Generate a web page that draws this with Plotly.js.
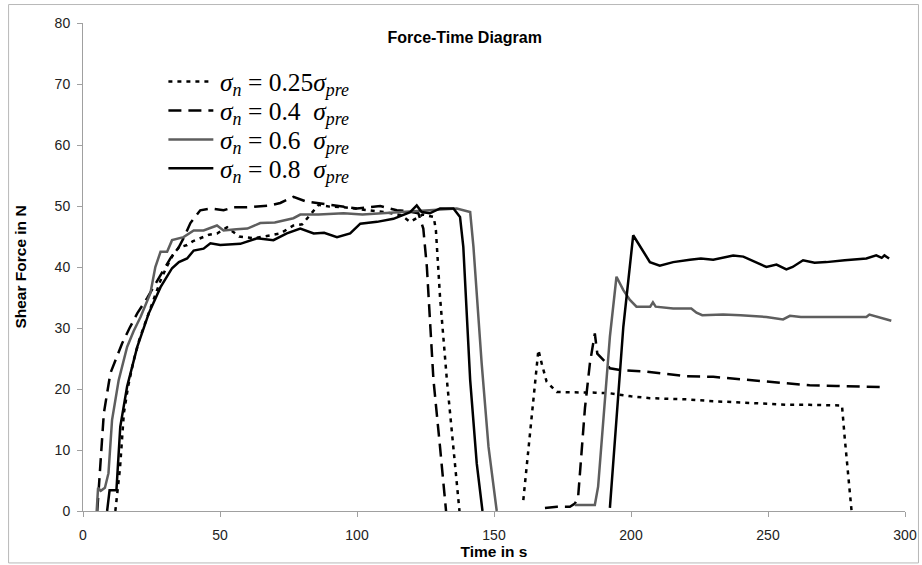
<!DOCTYPE html>
<html>
<head>
<meta charset="utf-8">
<script src="https://cdn.plot.ly/plotly-3.0.1.min.js"></script>
<style>html,body{margin:0;padding:0;background:#fff;}#chart{width:922px;height:565px;}</style>
</head>
<body>
<div id="chart"></div>
<script>
// sigma_n = 0.25 sigma_pre (dotted)
const t025 = [11.8, 13.5, 14.9, 16.5, 18.5, 20.5, 22.2, 24, 25.2, 28.3, 30.5, 33.1, 35, 38, 40, 42.8, 46, 48.9, 52.6, 57, 62.3, 66, 72, 76.8, 80, 86, 90, 95, 100, 105, 110, 116, 119.4, 124, 128, 128.8, 130.3, 132.8, 135.2, 137.4, null, 160.7, 163.1, 165, 166.2, 167.4, 169.2, 172.9, 177.7, 182.6, 187, 192.3, 200, 206.9, 213, 220.3, 230, 242.1, 250, 258, 265, 272.5, 277, 278, 279.5, 280.5];
const f025 = [0, 7, 16, 20.5, 24.7, 28, 30.2, 32.5, 34, 37.8, 40, 42.2, 43.2, 43.6, 44.2, 44.7, 45.3, 45.5, 46.5, 45, 44.7, 45, 45.5, 46.8, 47, 50.2, 49.9, 49.8, 49.5, 49.3, 49, 48.5, 47.4, 48.6, 48.2, 46, 35.1, 21.5, 10.5, 0, null, 1.8, 12.7, 22, 26.4, 24.2, 21.2, 19.5, 19.5, 19.5, 19.4, 19.3, 18.8, 18.5, 18.4, 18.3, 18, 17.7, 17.6, 17.4, 17.4, 17.4, 17.3, 12, 5, 0];

// sigma_n = 0.4 sigma_pre (dashed)
const t04 = [5.2, 6.4, 7.6, 10, 12, 14.3, 17, 19.8, 23.4, 26, 29.4, 32, 34.9, 37, 39.2, 42.8, 46.5, 51.3, 55, 59.9, 64, 68.4, 72, 76.8, 81.7, 86.6, 90, 95, 100, 104, 108.5, 114.5, 118, 122.4, 124.2, 125.5, 127.9, 130.3, 132.5, null, 168.6, 173, 177.7, 179.5, 180.7, 182, 183.2, 185, 186.8, 187.7, 190.5, 192.3, 196, 204.3, 213, 220.3, 230, 239.7, 247, 255.5, 265.2, 275, 283.5, 293.2];
const f04 = [0, 7.8, 16, 22.6, 25, 27.5, 30, 32.4, 34.9, 37, 39.5, 41.5, 43.2, 45, 47.2, 49.3, 49.6, 49.3, 49.8, 49.8, 50, 50.1, 50.5, 51.5, 50.7, 50.4, 50.2, 50, 49.6, 49.8, 50, 49.3, 49.2, 48.8, 46.3, 40, 21.5, 10.5, 0, null, 0.5, 0.7, 0.7, 1.2, 2.3, 9.4, 16.9, 24.2, 29.1, 25.8, 24.5, 23.4, 23.1, 22.9, 22.5, 22.1, 22, 21.6, 21.3, 21, 20.6, 20.5, 20.4, 20.3];

// sigma_n = 0.6 sigma_pre (grey solid)
const t06 = [5, 5.5, 6.5, 8, 9.3, 10.6, 13, 16.1, 18.5, 21, 24.6, 26.4, 28.3, 30.7, 32.5, 36.7, 40.4, 44, 48.9, 51.3, 56, 60, 64.7, 70, 76.8, 79.3, 86, 95.1, 102, 109.7, 115.7, 121, 127.9, 136.4, 141.3, 142.5, 145.5, 148, 151, null, 179.5, 186.8, 188, 189.9, 192.3, 194.7, 197.2, 199.6, 202, 207, 208, 209, 215.4, 220, 222, 223.9, 226, 233.6, 240, 249.4, 255.5, 258, 262, 270, 280, 285.9, 287, 293, 295];
const f06 = [0, 3.8, 3.3, 3.8, 6.2, 14.9, 21.4, 26.9, 29.5, 31.8, 35.7, 40, 42.5, 42.5, 44.4, 44.9, 46, 46, 46.8, 46, 46.2, 46.3, 47.2, 47.3, 48, 48.6, 48.6, 48.8, 48.6, 48.8, 49, 49.1, 49.3, 49.6, 49, 43.3, 24.2, 10.5, 0, null, 1, 1, 4, 14.9, 28.6, 38.4, 36.2, 34.6, 33.5, 33.5, 34.2, 33.5, 33.2, 33.2, 33.2, 32.5, 32.1, 32.2, 32.1, 31.8, 31.4, 32, 31.8, 31.8, 31.8, 31.8, 32.2, 31.5, 31.2];

// sigma_n = 0.8 sigma_pre (black solid)
const t08 = [8.8, 9.7, 12.2, 13, 13.6, 16.1, 19.8, 24, 28.3, 32.5, 35, 38, 40.4, 44, 46.5, 50.1, 52.6, 57.4, 63.5, 69.5, 74.4, 79.3, 84.2, 88, 92.7, 97.5, 101.2, 107.3, 113.3, 116, 119.4, 121.8, 123.6, 126.6, 130.3, 135.2, 137.6, 138.8, 141.3, 143.7, 145.8, null, 192.3, 194.7, 197.2, 200.8, 201.9, 204.4, 206.9, 210.5, 215.4, 221.5, 225.5, 230, 237.3, 241, 245.8, 249.4, 253.1, 256.7, 259, 262.8, 267, 271.3, 278, 285.9, 289.5, 291.5, 292.5, 294.2];
const f08 = [0, 3.4, 3.4, 10.5, 13.8, 20.4, 26.9, 32.4, 36.7, 39.8, 40.8, 41.4, 42.7, 43, 43.9, 43.6, 43.7, 43.8, 44.7, 44.4, 45.5, 46.3, 45.5, 45.6, 44.9, 45.5, 47.1, 47.4, 47.9, 48.4, 49, 50.1, 49, 48.8, 49.6, 49.6, 48.2, 43.3, 21.5, 7.8, 0, null, 0.5, 14.9, 30.2, 45.2, 44.4, 42.5, 40.8, 40.2, 40.8, 41.2, 41.4, 41.2, 41.9, 41.7, 40.8, 40, 40.4, 39.6, 40, 41.1, 40.7, 40.8, 41.1, 41.4, 41.9, 41.5, 41.9, 41.4];

const seriesNames = [
  '<i>σ</i><sub><i>n</i></sub> = 0.25<i>σ</i><sub><i>pre</i></sub>',
  '<i>σ</i><sub><i>n</i></sub> = 0.4\u00a0\u00a0<i>σ</i><sub><i>pre</i></sub>',
  '<i>σ</i><sub><i>n</i></sub> = 0.6\u00a0\u00a0<i>σ</i><sub><i>pre</i></sub>',
  '<i>σ</i><sub><i>n</i></sub> = 0.8\u00a0\u00a0<i>σ</i><sub><i>pre</i></sub>'
];
const chartTitle = 'Force-Time Diagram';
const xTitle = 'Time in s';
const yTitle = 'Shear Force in N';

const lineStyles = [
  {color: '#000', width: 2.5, dash: '4px,5px'},
  {color: '#000', width: 2.5, dash: '13px,7px'},
  {color: '#5e5e5e', width: 2.5, dash: 'solid'},
  {color: '#000', width: 2.5, dash: 'solid'}
];

const xs = [t025, t04, t06, t08];
const ys = [f025, f04, f06, f08];
const traces = xs.map((x, i) => ({x: x, y: ys[i], name: seriesNames[i], mode: 'lines', line: lineStyles[i], showlegend: false}));

// pixel -> paper helpers for the hand-placed legend box (plot area 82.5..905.5 x 22.5..511)
const px = v => (v - 82.5) / 823;
const py = v => (511 - v) / 488.5;
const legendRows = [81, 110, 139, 168];

const shapes = [{type: 'rect', xref: 'paper', yref: 'paper',
  x0: px(8), x1: px(919), y0: py(563), y1: py(4),
  line: {color: '#b8b8b8', width: 1}, fillcolor: 'rgba(0,0,0,0)', layer: 'below'}];
const annotations = [];
legendRows.forEach((r, i) => {
  shapes.push({type: 'line', xref: 'paper', yref: 'paper', x0: px(168), x1: px(213), y0: py(r), y1: py(r), line: lineStyles[i]});
  annotations.push({xref: 'paper', yref: 'paper', x: px(218), y: py(r + 3), xanchor: 'left', yanchor: 'middle', showarrow: false,
    text: seriesNames[i], font: {family: 'Liberation Serif, Times New Roman, serif', size: 25.5, color: '#000'}});
});

const axisCommon = {
  showgrid: false, zeroline: false, showline: true, linecolor: '#a0a0a0', linewidth: 1,
  ticks: 'outside', ticklen: 5, tickcolor: '#a0a0a0', tickwidth: 1,
  tickfont: {family: 'Liberation Sans, Arial, sans-serif', size: 14, color: '#222'}
};
const titleFont = {family: 'Liberation Sans, Arial, sans-serif', size: 15.5, color: '#000', weight: 'bold'};

const layout = {
  width: 922, height: 565,
  margin: {l: 82.5, r: 16.5, t: 22.5, b: 54, pad: 0},
  paper_bgcolor: '#fff', plot_bgcolor: '#fff',
  showlegend: false,
  title: {text: chartTitle, x: 0.504, xref: 'container', y: 1 - 37/565, yref: 'container', yanchor: 'middle', xanchor: 'center',
          font: {family: 'Liberation Sans, Arial, sans-serif', size: 16, color: '#000', weight: 'bold'}},
  xaxis: Object.assign({}, axisCommon, {range: [0, 300], dtick: 50, tick0: 0, ticklabelstandoff: 6,
          title: {text: xTitle, standoff: 3, font: titleFont}}),
  yaxis: Object.assign({}, axisCommon, {range: [0, 80], dtick: 10, tick0: 0, ticklabelstandoff: 4,
          title: {text: yTitle, standoff: 24, font: titleFont}}),
  shapes: shapes,
  annotations: annotations
};

Plotly.newPlot('chart', traces, layout, {displayModeBar: false, staticPlot: true});
</script>
</body>
</html>
